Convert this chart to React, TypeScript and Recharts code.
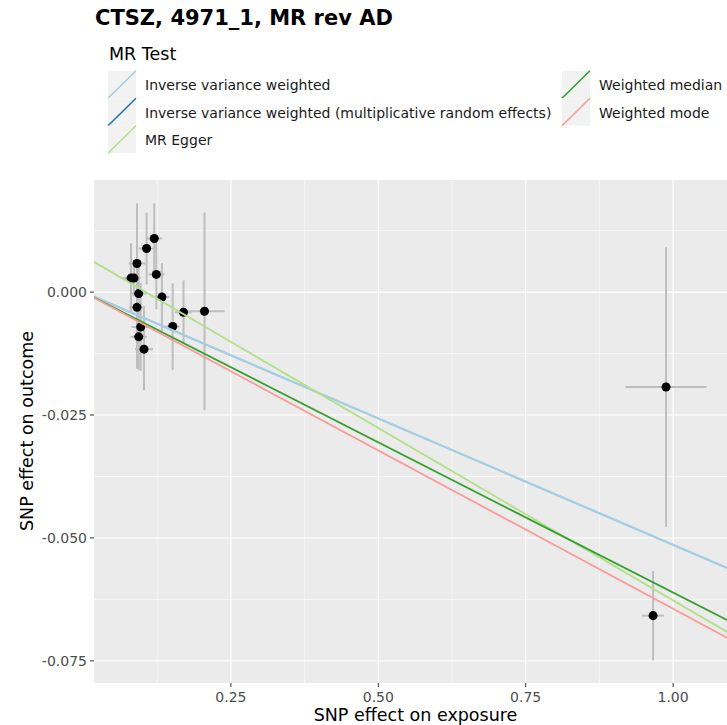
import { ScatterChart, Scatter, XAxis, YAxis, CartesianGrid, ErrorBar } from 'recharts'

// SNP-level estimates
const snpBetaExposure = [0.120, 0.107, 0.0907, 0.0806, 0.0857, 0.1235, 0.0936, 0.133, 0.0907, 0.1696, 0.2052, 0.1513, 0.097, 0.0936, 0.1026, 0.988, 0.966]
const snpBetaOutcome = [0.01091, 0.00888, 0.00583, 0.00285, 0.00285, 0.0036, -0.0003, -0.001, -0.0031, -0.0041, -0.0039, -0.007, -0.0071, -0.0091, -0.0116, -0.0193, -0.0658]
const snpSeExposure = [0.0136, 0.0136, 0.0144, 0.0136, 0.012, 0.0136, 0.0136, 0.0127, 0.0136, 0.0144, 0.034, 0.0119, 0.0153, 0.0136, 0.0153, 0.0687, 0.0187]
const snpSeOutcome = [0.0071, 0.0073, 0.0122, 0.0071, 0.0037, 0.0071, 0.0061, 0.0069, 0.0125, 0.0065, 0.0201, 0.0088, 0.0089, 0.0067, 0.0083, 0.0284, 0.0091]

// MR methods (abline: intercept + slope * x)
const methodNames = [
  'Inverse variance weighted (multiplicative random effects)',
  'Inverse variance weighted',
  'MR Egger',
  'Weighted median',
  'Weighted mode',
]
const methodSlopes = [-0.0514, -0.0514, -0.0701, -0.0611, -0.0644]
const methodIntercepts = [0, 0, 0.0074, 0, 0]
const methodColors = ['#1F78B4', '#A6CEE3', '#B2DF8A', '#33A02C', '#FB9A99']
const methodWidths = [1.2, 2.2, 1.8, 1.8, 1.8]

const xDomain = [0.0178, 1.0914]
const yDomain = [-0.0795, 0.0228]
const xTicks = [0.25, 0.5, 0.75, 1.0]
const yTicks = [0, -0.025, -0.05, -0.075]
const xMinor = [0.125, 0.375, 0.625, 0.875]
const yMinor = [0.0125, -0.0125, -0.0375, -0.0625]

// legend layout (ggplot order, two columns)
const legendLeft = ['Inverse variance weighted', 'Inverse variance weighted (multiplicative random effects)', 'MR Egger']
const legendLeftColors = ['#A6CEE3', '#1F78B4', '#B2DF8A']
const legendRight = ['Weighted median', 'Weighted mode']
const legendRightColors = ['#33A02C', '#FB9A99']

const FONT = '"DejaVu Sans", sans-serif'

const points = snpBetaExposure.map((x, i) => ({
  x,
  y: snpBetaOutcome[i],
  seX: snpSeExposure[i],
  seY: snpSeOutcome[i],
}))

const lines = methodNames.map((name, i) => ({
  name,
  color: methodColors[i],
  width: methodWidths[i],
  data: xDomain.map(x => ({ x, y: methodIntercepts[i] + methodSlopes[i] * x })),
}))

function LegendRow({ x, y, label, color }: { x: number; y: number; label: string; color: string }) {
  return (
    <g>
      <rect x={x} y={y} width={28} height={27.5} fill="#F2F2F2" />
      <line x1={x} y1={y + 27.5} x2={x + 28} y2={y} stroke={color} strokeWidth={1.6} />
      <text x={x + 37} y={y + 19.5} fontSize={14} fill="#1A1A1A">{label}</text>
    </g>
  )
}

export default function App() {
  const tickStyle = { fill: '#4D4D4D', fontSize: 14, fontFamily: FONT }
  return (
    <div style={{ position: 'absolute', left: 0, top: 0, width: 727, height: 725, background: '#fff', fontFamily: FONT }}>
      <ScatterChart width={727} height={725} margin={{ top: 180, right: 0, bottom: 0, left: 0 }}>
        <CartesianGrid
          fill="#EBEBEB"
          stroke="#FFFFFF"
          strokeWidth={0.55}
          horizontalValues={yMinor}
          verticalValues={xMinor}
        />
        <CartesianGrid stroke="#FFFFFF" strokeWidth={1.1} horizontalValues={yTicks} verticalValues={xTicks} />
        <XAxis
          type="number"
          dataKey="x"
          domain={xDomain}
          allowDataOverflow
          ticks={xTicks}
          tickFormatter={(v) => v.toFixed(2)}
          axisLine={false}
          tickLine={{ stroke: '#333333' }}
          tickSize={4}
          tickMargin={5}
          height={42}
          tick={tickStyle}
        />
        <YAxis
          type="number"
          dataKey="y"
          domain={yDomain}
          allowDataOverflow
          ticks={yTicks}
          tickFormatter={(v) => v.toFixed(3)}
          axisLine={false}
          tickLine={{ stroke: '#333333' }}
          tickSize={4}
          tickMargin={3}
          width={94}
          tick={tickStyle}
        />
        <Scatter data={points} fill="#000000" isAnimationActive={false}>
          <ErrorBar dataKey="seY" direction="y" width={0} stroke="#BEBEBE" strokeWidth={2} />
          <ErrorBar dataKey="seX" direction="x" width={0} stroke="#BEBEBE" strokeWidth={2} />
        </Scatter>
        {lines.map(l => (
          <Scatter
            key={l.name}
            data={l.data}
            line={{ stroke: l.color, strokeWidth: l.width }}
            shape={() => <g />}
            isAnimationActive={false}
          />
        ))}
      </ScatterChart>

      <svg width={727} height={725} style={{ position: 'absolute', left: 0, top: 0, pointerEvents: 'none' }} fontFamily={FONT}>
        <text x={95} y={25} fontSize={21} fontWeight="bold" fill="#000">CTSZ, 4971_1, MR rev AD</text>
        <text x={109} y={60} fontSize={17.5} fill="#000">MR Test</text>
        {legendLeft.map((label, i) => (
          <LegendRow key={label} x={108} y={70.7 + i * 27.5} label={label} color={legendLeftColors[i]} />
        ))}
        {legendRight.map((label, i) => (
          <LegendRow key={label} x={562} y={70.7 + i * 27.5} label={label} color={legendRightColors[i]} />
        ))}
        <text x={415.5} y={721} fontSize={17.5} textAnchor="middle" fill="#000">SNP effect on exposure</text>
        <text transform="translate(33,431) rotate(-90)" fontSize={17.5} textAnchor="middle" fill="#000">SNP effect on outcome</text>
      </svg>
    </div>
  )
}
